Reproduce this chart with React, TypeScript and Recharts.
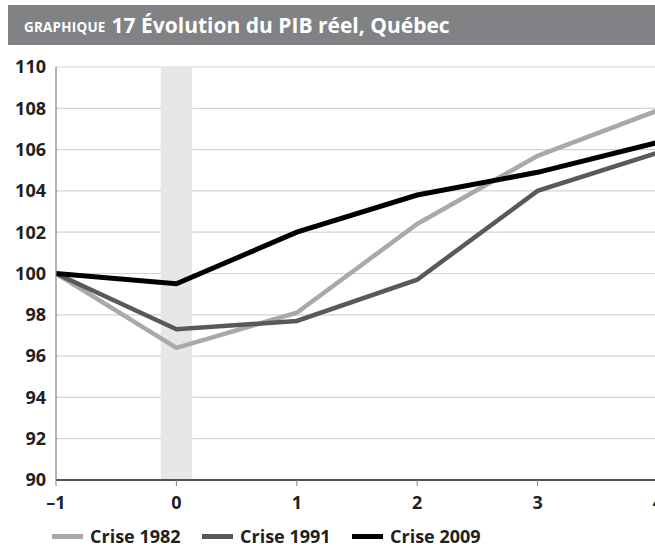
import {
  LineChart,
  Line,
  XAxis,
  YAxis,
  CartesianGrid,
  ReferenceArea,
  Legend,
} from "recharts";

// trimestres autour du creux (0 = début de la crise)
const periods = [-1, 0, 1, 2, 3, 4];
const crise1982 = [100, 96.4, 98.1, 102.4, 105.7, 107.9];
const crise1991 = [100, 97.3, 97.7, 99.7, 104.0, 105.85];
const crise2009 = [100, 99.5, 102.0, 103.8, 104.9, 106.35];

const xTicks = [-1, 0, 1, 2, 3, 4];
const yTicks = [90, 92, 94, 96, 98, 100, 102, 104, 106, 108, 110];

const SERIES = [
  { key: "c1982", name: "Crise 1982", color: "#a7a9ac", width: 4.5 },
  { key: "c1991", name: "Crise 1991", color: "#58595b", width: 4.5 },
  { key: "c2009", name: "Crise 2009", color: "#000000", width: 5 },
];

const FONT = "'Open Sans', 'DejaVu Sans', sans-serif";
const INK = "#231f20";

const chartData = periods.map((p, i) => ({
  x: p,
  c1982: crise1982[i],
  c1991: crise1991[i],
  c2009: crise2009[i],
}));

function fmtX(v: number): string {
  return v < 0 ? "\u2013" + Math.abs(v) : String(v);
}

function LegendContent() {
  return (
    <div
      style={{
        display: "flex",
        alignItems: "center",
        height: 24,
        paddingLeft: 52,
        fontFamily: FONT,
        fontWeight: 700,
        fontSize: 18,
        color: INK,
      }}
    >
      {SERIES.map((s) => (
        <div
          key={s.key}
          style={{ display: "flex", alignItems: "center", width: 150 }}
        >
          <span
            style={{
              display: "inline-block",
              width: 31,
              height: 5,
              background: s.color,
              marginRight: 7,
            }}
          />
          <span>{s.name}</span>
        </div>
      ))}
    </div>
  );
}

export default function App() {
  return (
    <div
      style={{
        position: "absolute",
        left: 0,
        top: 0,
        width: 655,
        height: 548,
        overflow: "hidden",
        background: "#fff",
      }}
    >
      <div
        style={{
          position: "absolute",
          left: 8,
          top: 5,
          width: 647,
          height: 40,
          background: "#808285",
          color: "#fff",
          fontFamily: FONT,
          fontWeight: 700,
          display: "flex",
          alignItems: "center",
          paddingLeft: 16,
          boxSizing: "border-box",
          whiteSpace: "nowrap",
        }}
      >
        <span
          style={{
            fontSize: 13.5,
            marginRight: 6,
            letterSpacing: 0.2,
            position: "relative",
            top: 2,
          }}
        >
          GRAPHIQUE
        </span>
        <span style={{ fontSize: 21 }}>17 Évolution du PIB réel, Québec</span>
      </div>

      <LineChart
        width={670}
        height={548}
        data={chartData}
        margin={{ top: 67, right: 12, left: 0, bottom: 0 }}
        style={{ position: "absolute", left: 0, top: 0 }}
      >
        <CartesianGrid vertical={false} stroke="#d1d3d4" strokeWidth={1.2} />
        <ReferenceArea
          x1={-0.13}
          x2={0.13}
          y1={90}
          y2={110}
          fill="#e6e7e8"
          fillOpacity={1}
          stroke="none"
        />
        <XAxis
          dataKey="x"
          type="number"
          domain={[-1, 4]}
          ticks={xTicks}
          tickFormatter={fmtX}
          allowDataOverflow
          height={44}
          tickSize={6}
          tickMargin={10}
          axisLine={{ stroke: INK, strokeWidth: 1.5 }}
          tickLine={{ stroke: "#808285" }}
          tick={{ fill: INK, fontSize: 18, fontWeight: 700, fontFamily: FONT }}
        />
        <YAxis
          type="number"
          domain={[90, 110]}
          ticks={yTicks}
          interval={0}
          width={56}
          tickSize={0}
          tickMargin={10}
          axisLine={{ stroke: "#808285", strokeWidth: 1.2 }}
          tickLine={false}
          tick={{ fill: INK, fontSize: 18, fontWeight: 700, fontFamily: FONT }}
        />
        {SERIES.map((s) => (
          <Line
            key={s.key}
            type="linear"
            dataKey={s.key}
            name={s.name}
            stroke={s.color}
            strokeWidth={s.width}
            dot={false}
            activeDot={false}
            isAnimationActive={false}
          />
        ))}
        <Legend verticalAlign="bottom" content={<LegendContent />} />
      </LineChart>
    </div>
  );
}
